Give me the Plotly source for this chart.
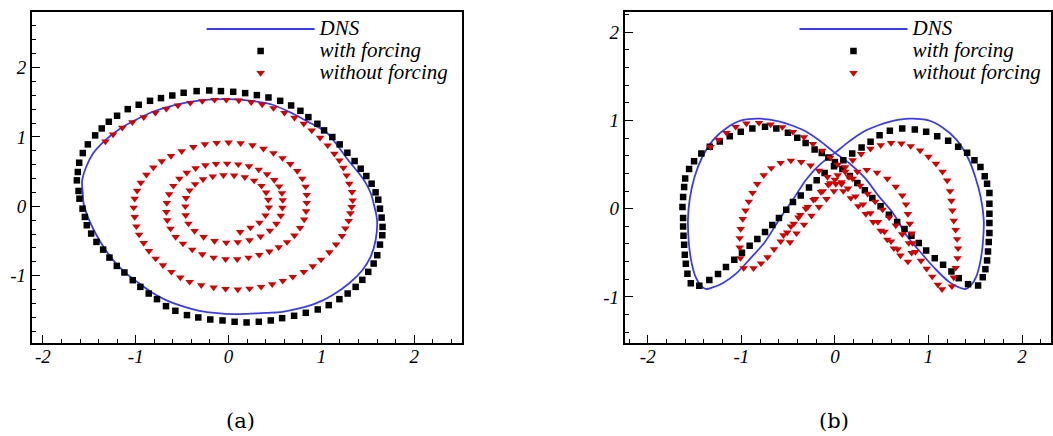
import plotly.graph_objects as go

# ---------------- panel (a) data ----------------
dns_a = [(-1.577, 0.37), (-1.534, 0.566), (-1.462, 0.758), (-1.33, 0.95), (-1.2, 1.09), (-1.03, 1.225),
         (-0.80, 1.37), (-0.55, 1.47), (-0.28, 1.53), (0.0, 1.545), (0.25, 1.52), (0.48, 1.46),
         (0.70, 1.33), (0.88, 1.20), (1.05, 1.07), (1.17, 0.88), (1.265, 0.708), (1.34, 0.58),
         (1.409, 0.468), (1.48, 0.33), (1.534, 0.18), (1.57, 0.0), (1.60, -0.20), (1.584, -0.489),
         (1.53, -0.729), (1.441, -0.921), (1.297, -1.113), (1.118, -1.281), (0.939, -1.40),
         (0.76, -1.472), (0.58, -1.52), (0.401, -1.535), (0.20, -1.55), (0.043, -1.554),
         (-0.12, -1.54), (-0.315, -1.506), (-0.50, -1.44), (-0.674, -1.352), (-0.83, -1.24),
         (-0.961, -1.113), (-1.10, -0.97), (-1.211, -0.825), (-1.31, -0.66), (-1.391, -0.489),
         (-1.46, -0.32), (-1.516, -0.153), (-1.560, 0.03), (-1.570, 0.182), (-1.577, 0.37)]

forced_a = [(-0.484, 1.636), (-0.344, 1.660), (-0.208, 1.669), (-0.082, 1.660), (0.050, 1.650),
            (0.179, 1.631), (0.305, 1.602), (0.430, 1.568), (0.556, 1.520), (0.674, 1.453),
            (0.774, 1.376), (0.860, 1.285), (0.957, 1.189), (1.029, 1.094), (1.118, 0.998),
            (1.197, 0.892), (1.280, 0.772), (1.358, 0.652), (1.423, 0.542), (1.484, 0.436),
            (1.541, 0.326), (1.584, 0.201), (1.613, 0.096), (1.631, -0.034), (1.649, -0.163),
            (1.659, -0.297), (1.656, -0.417), (1.631, -0.552), (1.602, -0.705), (1.563, -0.825),
            (1.505, -0.945), (1.441, -1.060), (1.369, -1.161), (1.283, -1.257), (1.194, -1.338),
            (1.079, -1.424), (0.961, -1.487), (0.832, -1.535), (0.706, -1.578), (0.577, -1.612),
            (0.455, -1.645), (0.326, -1.664), (0.194, -1.674), (0.065, -1.664), (-0.065, -1.645),
            (-0.197, -1.631), (-0.326, -1.602), (-0.448, -1.568), (-0.573, -1.506), (-0.674, -1.439),
            (-0.771, -1.338), (-0.860, -1.257), (-0.950, -1.161), (-1.032, -1.065), (-1.122, -0.954),
            (-1.204, -0.859), (-1.283, -0.739), (-1.351, -0.624), (-1.423, -0.513), (-1.480, -0.393),
            (-1.527, -0.273), (-1.548, -0.153), (-1.573, -0.034), (-1.606, 0.110), (-1.616, 0.221),
            (-1.634, 0.374), (-1.624, 0.494), (-1.609, 0.628), (-1.570, 0.767), (-1.516, 0.892),
            (-1.437, 1.022), (-1.366, 1.122), (-1.290, 1.218), (-1.201, 1.305), (-1.086, 1.400),
            (-0.968, 1.463), (-0.846, 1.520), (-0.728, 1.559), (-0.606, 1.597)]

unforced_a = [(-1.326, 0.935), (-1.244, 1.036), (-1.144, 1.132), (-1.036, 1.213), (-0.914, 1.285),
              (-0.789, 1.348), (-0.670, 1.405), (-0.545, 1.453), (-0.412, 1.492), (-0.283, 1.516),
              (-0.151, 1.535), (-0.025, 1.535), (0.111, 1.525), (0.244, 1.501), (0.362, 1.468),
              (0.484, 1.415), (0.602, 1.348), (0.710, 1.276), (0.810, 1.190), (0.896, 1.094),
              (0.986, 0.988), (1.068, 0.878), (1.140, 0.758), (1.194, 0.662), (1.237, 0.556),
              (1.272, 0.446), (1.301, 0.326), (1.330, 0.206), (1.337, 0.086), (1.326, -0.010),
              (1.312, -0.100), (1.294, -0.210), (1.258, -0.317), (1.222, -0.427), (1.158, -0.547),
              (1.086, -0.662), (0.996, -0.767), (0.907, -0.863), (0.810, -0.945), (0.692, -1.017),
              (0.584, -1.074), (0.470, -1.122), (0.351, -1.161), (0.226, -1.185), (0.100, -1.199),
              (-0.032, -1.189), (-0.161, -1.170), (-0.294, -1.137), (-0.419, -1.089), (-0.520, -1.026),
              (-0.616, -0.945), (-0.706, -0.849), (-0.785, -0.753), (-0.857, -0.643), (-0.914, -0.528),
              (-0.964, -0.408), (-0.993, -0.288), (-1.011, -0.153), (-1.022, -0.019), (-1.011, 0.110),
              (-0.985, 0.225), (-0.945, 0.340), (-0.885, 0.455), (-0.810, 0.560), (-0.720, 0.650),
              (-0.620, 0.725), (-0.505, 0.795), (-0.380, 0.855), (-0.255, 0.895), (-0.128, 0.915),
              (0.000, 0.920), (0.130, 0.910), (0.258, 0.880), (0.376, 0.830), (0.484, 0.767),
              (0.581, 0.695), (0.665, 0.610), (0.740, 0.510), (0.795, 0.400), (0.830, 0.285),
              (0.842, 0.165), (0.842, 0.050), (0.835, -0.070), (0.815, -0.190), (0.770, -0.310),
              (0.710, -0.420), (0.630, -0.515), (0.540, -0.590), (0.440, -0.650), (0.330, -0.700),
              (0.215, -0.739), (0.093, -0.763), (-0.032, -0.763), (-0.161, -0.739), (-0.283, -0.691),
              (-0.391, -0.624), (-0.491, -0.537), (-0.570, -0.441), (-0.625, -0.321), (-0.660, -0.201),
              (-0.670, -0.081), (-0.665, 0.048), (-0.640, 0.175), (-0.595, 0.295), (-0.530, 0.400),
              (-0.450, 0.485), (-0.355, 0.550), (-0.250, 0.592), (-0.135, 0.612), (-0.015, 0.616),
              (0.105, 0.605), (0.220, 0.578), (0.325, 0.530), (0.415, 0.462), (0.492, 0.380),
              (0.545, 0.288), (0.575, 0.190), (0.584, 0.090), (0.580, -0.020), (0.562, -0.135),
              (0.515, -0.250), (0.445, -0.350), (0.345, -0.435), (0.226, -0.489), (0.100, -0.515),
              (-0.025, -0.523), (-0.151, -0.499), (-0.269, -0.441), (-0.366, -0.355), (-0.432, -0.249),
              (-0.462, -0.129), (-0.466, 0.000), (-0.458, 0.120), (-0.420, 0.230), (-0.360, 0.320),
              (-0.275, 0.390), (-0.170, 0.430), (-0.055, 0.448), (0.060, 0.445), (0.175, 0.420),
              (0.275, 0.370), (0.355, 0.295), (0.405, 0.200), (0.428, 0.095), (0.434, -0.015),
              (0.398, -0.130), (0.333, -0.235), (0.236, -0.307), (0.125, -0.369)]

# ---------------- panel (b) data ----------------
dns_b = [(0.0, 0.633), (0.15, 0.76), (0.3, 0.87), (0.45, 0.94), (0.6, 0.99), (0.8, 1.02), (1.0, 1.0),
         (1.15, 0.92), (1.3, 0.78), (1.42, 0.58), (1.5, 0.36), (1.56, 0.12), (1.59, -0.12),
         (1.58, -0.4), (1.55, -0.62), (1.51, -0.77), (1.46, -0.86), (1.40, -0.91), (1.32, -0.89),
         (1.22, -0.83), (1.07, -0.68), (0.92, -0.50), (0.77, -0.31), (0.62, -0.05), (0.47, 0.14),
         (0.32, 0.35), (0.16, 0.51), (0.0, 0.633), (-0.15, 0.76), (-0.3, 0.87), (-0.45, 0.94),
         (-0.6, 0.99), (-0.8, 1.02), (-1.0, 1.0), (-1.15, 0.92), (-1.3, 0.78), (-1.42, 0.58),
         (-1.5, 0.36), (-1.55, 0.12), (-1.57, -0.12), (-1.56, -0.4), (-1.53, -0.62), (-1.49, -0.77),
         (-1.44, -0.86), (-1.38, -0.91), (-1.3, -0.89), (-1.2, -0.845), (-1.05, -0.73),
         (-0.9, -0.56), (-0.75, -0.38), (-0.6, -0.13), (-0.45, 0.10), (-0.3, 0.34), (-0.15, 0.51),
         (0.0, 0.633)]

forced_b = [(-1.449, -0.875), (-1.342, -0.81), (-1.249, -0.74), (-1.164, -0.66), (-1.075, -0.58),
            (-0.993, -0.50), (-0.911, -0.42), (-0.829, -0.345), (-0.747, -0.265), (-0.669, -0.186),
            (-0.598, -0.106), (-0.520, -0.011), (-0.448, 0.076), (-0.365, 0.15), (-0.277, 0.239),
            (-0.195, 0.322), (-0.11, 0.405), (-0.01, 0.481), (0.09, 0.549), (0.185, 0.625),
            (0.285, 0.693), (0.381, 0.758), (0.477, 0.833), (0.587, 0.883), (0.719, 0.909),
            (0.854, 0.898), (0.975, 0.871), (1.093, 0.822), (1.210, 0.769), (1.317, 0.701),
            (1.413, 0.633), (1.491, 0.549), (1.555, 0.473), (1.601, 0.367), (1.626, 0.284),
            (1.651, 0.178), (1.651, 0.057), (1.651, -0.057), (1.651, -0.163), (1.651, -0.277),
            (1.644, -0.379), (1.636, -0.485), (1.626, -0.587), (1.608, -0.686), (1.580, -0.777),
            (1.530, -0.871), (1.423, -0.856), (1.323, -0.788), (1.245, -0.712), (1.156, -0.636),
            (1.067, -0.561), (0.975, -0.474), (0.896, -0.390), (0.818, -0.307), (0.744, -0.231),
            (0.665, -0.152), (0.577, -0.068), (0.488, 0.027), (0.40, 0.12), (0.32, 0.21),
            (0.24, 0.29), (0.16, 0.37), (0.08, 0.45), (0.0, 0.53), (-0.07, 0.58), (-0.14, 0.63),
            (-0.217, 0.670), (-0.313, 0.746), (-0.402, 0.803), (-0.502, 0.860), (-0.626, 0.909),
            (-0.747, 0.928), (-0.882, 0.909), (-1.006, 0.871), (-1.124, 0.822), (-1.23, 0.762),
            (-1.337, 0.701), (-1.427, 0.625), (-1.505, 0.538), (-1.558, 0.451), (-1.600, 0.341),
            (-1.611, 0.246), (-1.622, 0.133), (-1.629, 0.019), (-1.622, -0.106), (-1.622, -0.201),
            (-1.618, -0.307), (-1.611, -0.409), (-1.604, -0.523), (-1.593, -0.625), (-1.576, -0.739),
            (-1.540, -0.845)]

unforced_b = [(-1.33, 0.70), (-1.245, 0.784), (-1.159, 0.860), (-1.06, 0.928), (-0.946, 0.966),
              (-0.811, 0.973), (-0.687, 0.955), (-0.562, 0.925), (-0.448, 0.871), (-0.331, 0.811),
              (-0.235, 0.735), (-0.135, 0.659), (-0.05, 0.58), (0.03, 0.50), (0.11, 0.42),
              (0.19, 0.34), (0.27, 0.26), (0.35, 0.17), (0.43, 0.08), (0.51, -0.01), (0.58, -0.10),
              (0.65, -0.19), (0.72, -0.29), (0.79, -0.39), (0.86, -0.49), (0.92, -0.59),
              (0.98, -0.68), (1.04, -0.77), (1.10, -0.86), (1.145, -0.913), (1.25, -0.88),
              (1.27, -0.78), (1.29, -0.67), (1.31, -0.56), (1.316, -0.45), (1.306, -0.345),
              (1.29, -0.24), (1.27, -0.136), (1.255, -0.02), (1.245, 0.09), (1.23, 0.20),
              (1.20, 0.32), (1.15, 0.42), (1.08, 0.51), (1.0, 0.59), (0.91, 0.66), (0.81, 0.71),
              (0.71, 0.74), (0.60, 0.745), (0.49, 0.72), (0.38, 0.68), (0.28, 0.62), (0.19, 0.55),
              (0.11, 0.47), (0.03, 0.38), (-0.05, 0.29), (-0.13, 0.20), (-0.21, 0.11), (-0.29, 0.02),
              (-0.37, -0.07), (-0.44, -0.17), (-0.51, -0.27), (-0.58, -0.37), (-0.65, -0.46),
              (-0.72, -0.55), (-0.79, -0.62), (-0.87, -0.675), (-0.975, -0.674), (-1.01, -0.56),
              (-1.017, -0.44), (-1.017, -0.333), (-1.007, -0.23), (-0.985, -0.117), (-0.955, -0.02),
              (-0.92, 0.08), (-0.88, 0.18), (-0.83, 0.28), (-0.76, 0.38), (-0.68, 0.46),
              (-0.58, 0.52), (-0.47, 0.545), (-0.36, 0.53), (-0.26, 0.49), (-0.17, 0.43),
              (-0.08, 0.36), (0.01, 0.28), (0.09, 0.20), (0.17, 0.12), (0.25, 0.03), (0.33, -0.06),
              (0.41, -0.15), (0.49, -0.25), (0.56, -0.35), (0.63, -0.45), (0.70, -0.53),
              (0.78, -0.60), (0.82, -0.50), (0.83, -0.39), (0.82, -0.28), (0.80, -0.17),
              (0.78, -0.06), (0.76, 0.05), (0.72, 0.15), (0.65, 0.25), (0.56, 0.34), (0.45, 0.41),
              (0.34, 0.44), (0.24, 0.42), (0.15, 0.36), (0.07, 0.28), (-0.01, 0.20), (-0.09, 0.11),
              (-0.17, 0.02), (-0.25, -0.08), (-0.33, -0.18), (-0.41, -0.28), (-0.48, -0.38),
              (-0.55, -0.30), (-0.47, -0.20), (-0.39, -0.10), (-0.31, 0.0), (-0.23, 0.10),
              (-0.15, 0.19), (-0.07, 0.27), (0.0, 0.33), (0.07, 0.30), (0.14, 0.23), (0.22, 0.14),
              (0.30, 0.05), (0.38, -0.05), (0.46, -0.15), (0.53, -0.26), (0.60, -0.37), (0.67, -0.46)]

series_names = ["DNS", "with forcing", "without forcing"]
x_ticks = [-2, -1, 0, 1, 2]
x_tick_text = ["-2", "-1", "0", "1", "2"]
y_ticks_a = [-1, 0, 1, 2]
y_ticks_b = [-1, 0, 1, 2]
y_tick_text = ["-1", "0", "1", "2"]
panel_labels = ["(a)", "(b)"]


def xs(p):
    return [q[0] for q in p]


def ys(p):
    return [q[1] for q in p]


BLUE = "#3b3bf5"
RED = "#d40000"
W, H = 1053, 436
SERIF = "Liberation Serif, Times New Roman, Times, serif"


def legend_name(s):
    return '<span style="font-size:21px">' + s + '</span>'


fig = go.Figure()

for (dns, forced, unforced, xa, ya, lg) in [
        (dns_a, forced_a, unforced_a, "x", "y", "legend"),
        (dns_b, forced_b, unforced_b, "x2", "y2", "legend2")]:
    fig.add_trace(go.Scatter(x=xs(dns), y=ys(dns), mode="lines", name=legend_name(series_names[0]),
                             line=dict(color=BLUE, width=1.8, shape="spline", smoothing=1.0),
                             xaxis=xa, yaxis=ya, legend=lg))
    fig.add_trace(go.Scatter(x=xs(forced), y=ys(forced), mode="markers", name=legend_name(series_names[1]),
                             marker=dict(symbol="square", size=6.5, color="black"),
                             xaxis=xa, yaxis=ya, legend=lg))
    fig.add_trace(go.Scatter(x=xs(unforced), y=ys(unforced), mode="markers", name=legend_name(series_names[2]),
                             marker=dict(symbol="triangle-down", size=7.5, color=RED),
                             xaxis=xa, yaxis=ya, legend=lg))

tickfont = dict(family=SERIF, size=19, color="black", style="italic")
common = dict(showgrid=False, zeroline=False, showline=True, linecolor="black", linewidth=2,
              mirror=True, ticks="inside", ticklen=8, tickwidth=1, tickcolor="black",
              tickfont=tickfont, tickmode="array",
              minor=dict(ticks="inside", ticklen=4, tickwidth=1, tickcolor="black",
                         tickmode="linear", tick0=0, dtick=0.2))

ybot = 1 - 343 / H
ytop = 1 - 12 / H
legfont = dict(family=SERIF, size=14.6, color="black", style="italic")

fig.update_layout(
    width=W, height=H, margin=dict(l=0, r=0, t=0, b=0),
    paper_bgcolor="white", plot_bgcolor="white",
    xaxis=dict(domain=[32 / W, 463 / W], range=[-2.118, 2.516], anchor="y",
               tickvals=x_ticks, ticktext=x_tick_text, ticklabelstandoff=-5, **common),
    yaxis=dict(domain=[ybot, ytop], range=[-1.97, 2.80], anchor="x",
               tickvals=y_ticks_a, ticktext=y_tick_text, **common),
    xaxis2=dict(domain=[626 / W, 1.0], range=[-2.245, 2.309], anchor="y2",
                tickvals=x_ticks, ticktext=x_tick_text, ticklabelstandoff=-5, **common),
    yaxis2=dict(domain=[ybot, ytop], range=[-1.523, 2.23], anchor="x2",
                tickvals=y_ticks_b, ticktext=y_tick_text, **common),
    legend=dict(x=202 / W, y=1 - 13 / H, xanchor="left", yanchor="top", bgcolor="rgba(0,0,0,0)",
                font=legfont, itemwidth=108, tracegroupgap=0),
    legend2=dict(x=796 / W, y=1 - 13 / H, xanchor="left", yanchor="top", bgcolor="rgba(0,0,0,0)",
                 font=legfont, itemwidth=108, tracegroupgap=0),
    annotations=[
        dict(text=panel_labels[0], x=241 / W, y=1 - 421 / H, xref="paper", yref="paper",
             showarrow=False, font=dict(family="DejaVu Serif, serif", size=21, color="black"),
             xanchor="center", yanchor="middle"),
        dict(text=panel_labels[1], x=836 / W, y=1 - 421 / H, xref="paper", yref="paper",
             showarrow=False, font=dict(family="DejaVu Serif, serif", size=21, color="black"),
             xanchor="center", yanchor="middle"),
    ],
)

fig.write_html("out.html")
